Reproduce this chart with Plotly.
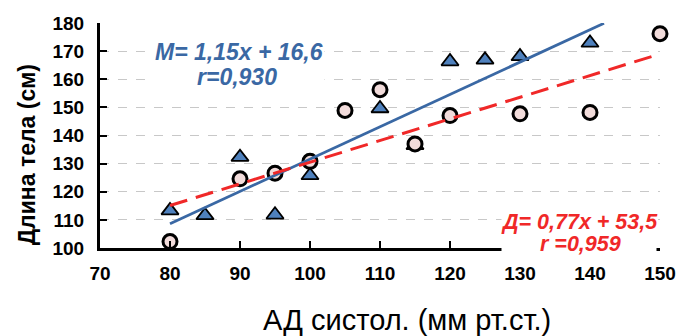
import plotly.graph_objects as go
import numpy as np

# Data
m_x = [80, 85, 90, 95, 100, 110, 115, 120, 125, 130, 140]
m_y = [113.3, 111.6, 132.3, 111.8, 125.8, 149.6, 136.5, 166.3, 166.9, 168.1, 172.9]
d_x = [80, 90, 95, 100, 105, 110, 115, 120, 130, 140, 150]
d_y = [102.3, 124.6, 126.6, 130.8, 148.9, 156.3, 137.0, 147.1, 147.7, 148.2, 176.2]

m_slope, m_int, m_r = 1.15, 16.6, "0,930"
d_slope, d_int, d_r = 0.77, 53.5, "0,959"
m_range = [80, 142]
d_range = [80, 150]

x_ticks = [70, 80, 90, 100, 110, 120, 130, 140, 150]
y_ticks = [100, 110, 120, 130, 140, 150, 160, 170, 180]

x_title = "АД систол. (мм рт.ст.)"
y_title = "Длина тела (см)"

BLUE_LINE = "#3A68A4"
BLUE_FILL = "#4F81BD"
RED = "#F02828"
PINK = "#F2DCDB"

fig = go.Figure()

fig.add_trace(go.Scatter(
    x=m_x, y=m_y, mode="markers",
    marker=dict(symbol="triangle-up", size=15, color=BLUE_FILL,
                line=dict(color="black", width=1.8)),
    showlegend=False, cliponaxis=False))
fig.add_trace(go.Scatter(
    x=d_x, y=d_y, mode="markers",
    marker=dict(symbol="circle", size=14, color=PINK,
                line=dict(color="black", width=3)),
    showlegend=False, cliponaxis=False))

mx = np.array(m_range, dtype=float)
fig.add_trace(go.Scatter(x=mx, y=m_slope * mx + m_int, mode="lines",
                         line=dict(color=BLUE_LINE, width=2.8), showlegend=False))
dx = np.array(d_range, dtype=float)
fig.add_trace(go.Scatter(x=dx, y=d_slope * dx + d_int, mode="lines",
                         line=dict(color=RED, width=3, dash="18px,9px"), showlegend=False))

font_fam = "Liberation Sans, Arial, sans-serif"

def fmt(v):
    return str(v).replace('.', ',')

# white label boxes (hide gridlines / axis line behind equation texts)
fig.add_annotation(x=0.2464, y=0.8133, xref="paper", yref="paper", text=" ",
                   showarrow=False, width=170, height=50, bgcolor="white",
                   xanchor="center", yanchor="middle")
fig.add_annotation(x=0.8554, y=0.0711, xref="paper", yref="paper", text=" ",
                   showarrow=False, width=152, height=46, bgcolor="white",
                   xanchor="center", yanchor="middle")

# equation texts
fig.add_annotation(x=0.2482, y=0.8711, xref="paper", yref="paper",
                   text=f"<b><i>M= {fmt(m_slope)}x + {fmt(m_int)}</i></b>",
                   showarrow=False, xanchor="center", yanchor="middle",
                   font=dict(family=font_fam, size=23, color=BLUE_LINE))
fig.add_annotation(x=0.2446, y=0.76, xref="paper", yref="paper",
                   text=f"<b><i>r={m_r}</i></b>",
                   showarrow=False, xanchor="center", yanchor="middle",
                   font=dict(family=font_fam, size=23, color=BLUE_LINE))
fig.add_annotation(x=0.8554, y=0.1156, xref="paper", yref="paper",
                   text=f"<b><i>Д= {fmt(d_slope)}x + {fmt(d_int)}</i></b>",
                   showarrow=False, xanchor="center", yanchor="middle",
                   font=dict(family=font_fam, size=21.5, color=RED))
fig.add_annotation(x=0.8589, y=0.0178, xref="paper", yref="paper",
                   text=f"<b><i>r ={d_r}</i></b>",
                   showarrow=False, xanchor="center", yanchor="middle",
                   font=dict(family=font_fam, size=21.5, color=RED))

# axis titles as annotations (paper coords)
fig.add_annotation(x=0.548, y=-0.32, xref="paper", yref="paper",
                   text=x_title, showarrow=False, xanchor="center", yanchor="middle",
                   font=dict(family=font_fam, size=29, color="black"))
fig.add_annotation(x=-0.130, y=0.413, xref="paper", yref="paper",
                   text=f"<b>{y_title}</b>", showarrow=False, textangle=-90,
                   xanchor="center", yanchor="middle",
                   font=dict(family=font_fam, size=23, color="black"))

fig.update_layout(
    width=680, height=336,
    margin=dict(l=100, r=20, t=23, b=88),
    plot_bgcolor="white", paper_bgcolor="white",
    font=dict(family=font_fam, color="black"),
    xaxis=dict(range=[70, 150], tickvals=x_ticks, ticktext=[str(v) for v in x_ticks],
               showgrid=False, zeroline=False, automargin=False,
               showline=True, linecolor="black", linewidth=3,
               ticks="inside", ticklen=7, tickwidth=1.5, tickcolor="black",
               ticklabelstandoff=6,
               tickfont=dict(size=19, family=font_fam, weight="bold")),
    yaxis=dict(range=[100, 180], tickvals=y_ticks, ticktext=[str(v) for v in y_ticks],
               showgrid=True, gridcolor="#C8C8C8", griddash="dash", gridwidth=1,
               zeroline=False, automargin=False,
               showline=True, linecolor="black", linewidth=3,
               ticks="inside", ticklen=7, tickwidth=1.5, tickcolor="black",
               tickfont=dict(size=19, family=font_fam, weight="bold"),
               ticklabelstandoff=9),
)

fig.write_html("out.html", config={"displayModeBar": False},
               post_script="document.body.style.margin='0';")
